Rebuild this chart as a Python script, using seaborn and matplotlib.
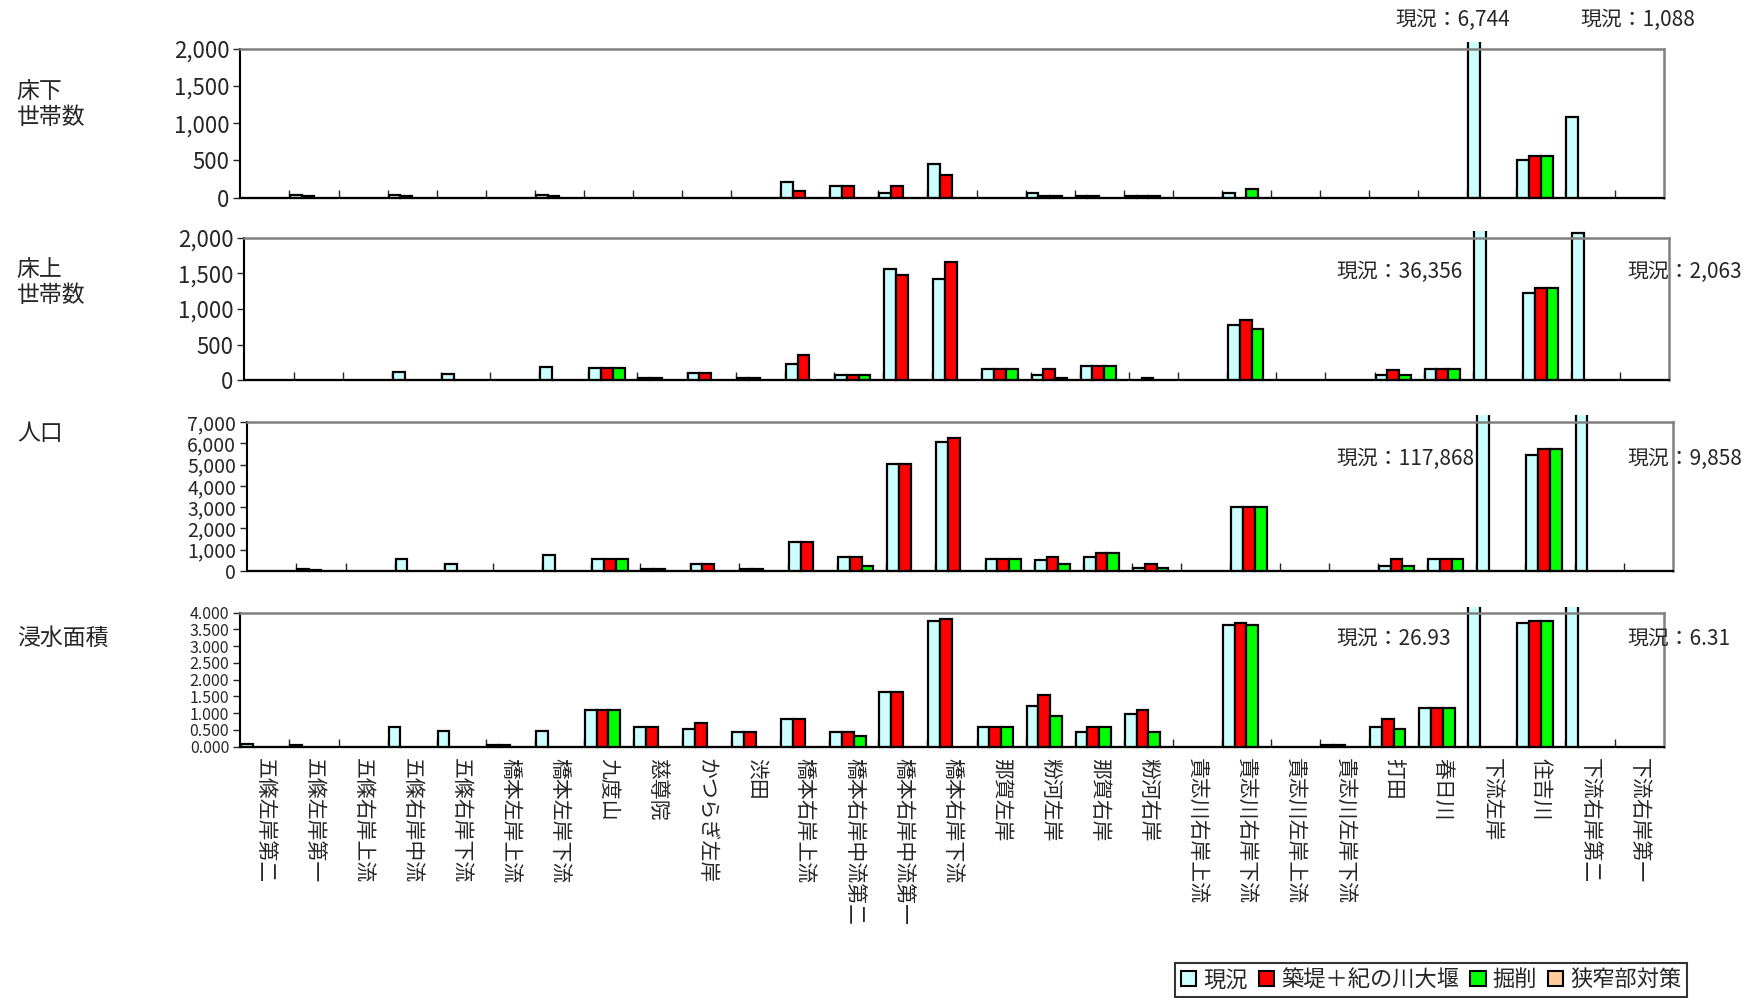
import matplotlib
matplotlib.use('Agg')
import numpy as np
import pandas as pd
import matplotlib.pyplot as plt
import seaborn as sns
from matplotlib.patches import Patch
from matplotlib.transforms import Bbox, TransformedBbox
from matplotlib.ticker import FuncFormatter, FixedLocator

# categories / series
districts = ['五條左岸第二', '五條左岸第一', '五條右岸上流', '五條右岸中流', '五條右岸下流',
             '橋本左岸上流', '橋本左岸下流', '九度山', '慈尊院', 'かつらぎ左岸', '渋田',
             '橋本右岸上流', '橋本右岸中流第二', '橋本右岸中流第一', '橋本右岸下流',
             '那賀左岸', '粉河左岸', '那賀右岸', '粉河右岸', '貴志川右岸上流', '貴志川右岸下流',
             '貴志川左岸上流', '貴志川左岸下流', '打田', '春日川', '下流左岸', '住吉川',
             '下流右岸第二', '下流右岸第一']
cases = ['現況', '築堤＋紀の川大堰', '掘削', '狭窄部対策']
case_colors = ['#CCFFFF', '#FF0000', '#00FF00', '#FFCC99']

# 床下世帯数
yukashita_genkyo = [0, 30, 0, 30, 0, 0, 30, 0, 0, 0, 0, 210, 155, 68, 450, 0, 60, 25, 25, 0, 65, 0, 0, 0, 0, 6744, 505, 1088, 0]
yukashita_chikutei = [0, 15, 0, 15, 0, 0, 15, 0, 0, 0, 0, 90, 155, 150, 300, 0, 25, 25, 25, 0, 0, 0, 0, 0, 0, 0, 560, 0, 0]
yukashita_kussaku = [0, 0, 0, 0, 0, 0, 0, 0, 0, 0, 0, 0, 0, 0, 0, 0, 25, 0, 25, 0, 120, 0, 0, 0, 0, 0, 560, 0, 0]
yukashita_kyosaku = [0] * 29

# 床上世帯数
yukaue_genkyo = [0, 0, 0, 120, 91, 0, 191, 167, 25, 96, 25, 225, 77, 1565, 1412, 158, 77, 196, 0, 0, 780, 0, 0, 72, 158, 36356, 1220, 2063, 0]
yukaue_chikutei = [0, 0, 0, 0, 0, 0, 0, 167, 25, 96, 25, 350, 77, 1469, 1660, 158, 158, 196, 25, 0, 847, 0, 0, 148, 158, 0, 1287, 0, 0]
yukaue_kussaku = [0, 0, 0, 0, 0, 0, 0, 167, 0, 0, 0, 0, 77, 0, 0, 158, 25, 196, 0, 0, 718, 0, 0, 72, 158, 0, 1287, 0, 0]
yukaue_kyosaku = [0] * 29

# 人口
jinko_genkyo = [0, 80, 0, 550, 330, 0, 740, 535, 100, 315, 100, 1350, 645, 5050, 6072, 535, 520, 645, 157, 0, 2990, 0, 0, 220, 550, 117868, 5475, 9858, 0]
jinko_chikutei = [0, 40, 0, 0, 0, 0, 0, 535, 100, 315, 100, 1350, 645, 5050, 6276, 535, 645, 834, 330, 0, 2990, 0, 0, 550, 550, 0, 5757, 0, 0]
jinko_kussaku = [0, 0, 0, 0, 0, 0, 0, 535, 0, 0, 0, 0, 220, 0, 0, 535, 330, 834, 157, 0, 2990, 0, 0, 220, 550, 0, 5757, 0, 0]
jinko_kyosaku = [0] * 29

# 浸水面積
menseki_genkyo = [0.06, 0.05, 0, 0.585, 0.457, 0.05, 0.457, 1.10, 0.576, 0.516, 0.447, 0.834, 0.447, 1.618, 3.752, 0.576, 1.221, 0.447, 0.963, 0, 3.623, 0, 0.05, 0.586, 1.161, 26.93, 3.683, 6.31, 0]
menseki_chikutei = [0, 0, 0, 0, 0, 0.05, 0, 1.10, 0.576, 0.705, 0.447, 0.834, 0.447, 1.618, 3.812, 0.576, 1.539, 0.576, 1.092, 0, 3.683, 0, 0.05, 0.834, 1.161, 0, 3.742, 0, 0]
menseki_kussaku = [0, 0, 0, 0, 0, 0, 0, 1.10, 0, 0, 0, 0, 0.318, 0, 0, 0.576, 0.903, 0.576, 0.437, 0, 3.623, 0, 0, 0.516, 1.161, 0, 3.742, 0, 0]
menseki_kyosaku = [0] * 29

row_labels = ['床下\n世帯数', '床上\n世帯数', '人口', '浸水面積']
y_max = [2000, 2000, 7000, 4.0]
y_step = [500, 500, 1000, 0.5]
notes_left = ['現況：6,744', '現況：36,356', '現況：117,868', '現況：26.93']
notes_right = ['現況：1,088', '現況：2,063', '現況：9,858', '現況：6.31']

sns.set_theme(style='white')
plt.rcParams['font.family'] = ['Noto Sans CJK JP', 'DejaVu Sans']

fig = plt.figure(figsize=(17.42, 9.98), dpi=100)

panels = [
    ([0.1380, 0.802, 0.817, 0.149], [yukashita_genkyo, yukashita_chikutei, yukashita_kussaku, yukashita_kyosaku]),
    ([0.1403, 0.619, 0.818, 0.143], [yukaue_genkyo, yukaue_chikutei, yukaue_kussaku, yukaue_kyosaku]),
    ([0.1419, 0.428, 0.8184, 0.149], [jinko_genkyo, jinko_chikutei, jinko_kussaku, jinko_kyosaku]),
    ([0.1380, 0.252, 0.817, 0.134], [menseki_genkyo, menseki_chikutei, menseki_kussaku, menseki_kyosaku]),
]
ytick_size = [16, 16, 14, 11.5]
label_top = [0.920, 0.741, 0.577, 0.372]
note_y = [0.980, 0.728, 0.540, 0.360]
note_x = [(0.801, 0.907), (0.767, 0.934), (0.767, 0.934), (0.767, 0.934)]

n = len(districts)
for i, (rect, series) in enumerate(panels):
    ax = fig.add_axes(rect)
    df = pd.DataFrame({
        '地区': districts * 4,
        'ケース': np.repeat(cases, n),
        '値': np.concatenate(series),
    })
    sns.barplot(data=df, x='地区', y='値', hue='ケース', order=districts, hue_order=cases,
                palette=dict(zip(cases, case_colors)), saturation=1, width=0.96,
                edgecolor='black', linewidth=1.6, errorbar=None, legend=False, ax=ax)
    ax.set_xlim(-0.5, n - 0.5)
    ax.set_ylim(0, y_max[i])
    ax.set_xlabel('')
    ax.set_ylabel('')
    # bars that exceed the axis poke a little over the frame
    clip = TransformedBbox(Bbox([[0, -0.05], [1, 1.045]]), ax.transAxes)
    for p in ax.patches:
        p.set_clip_box(clip)

    ax.yaxis.set_major_locator(FixedLocator(np.arange(0, y_max[i] + y_step[i] / 2, y_step[i])))
    if i == 3:
        ax.yaxis.set_major_formatter(FuncFormatter(lambda v, p: f'{v:.3f}'))
    else:
        ax.yaxis.set_major_formatter(FuncFormatter(lambda v, p: f'{v:,.0f}'))
    ax.tick_params(axis='y', direction='out', length=5, width=1, labelsize=ytick_size[i], pad=3, left=True)
    ax.set_xticks(np.arange(n))
    ax.set_xticks(np.arange(n - 1) + 0.5, minor=True)
    ax.tick_params(axis='x', which='major', length=0, pad=8)
    ax.tick_params(axis='x', which='minor', direction='in', length=6, width=1, bottom=True)
    if i == 3:
        ax.set_xticklabels(districts, rotation=270, fontsize=15, ha='center', va='top')
    else:
        ax.set_xticklabels([])

    for side in ['top', 'right']:
        ax.spines[side].set_color('#808080')
        ax.spines[side].set_linewidth(1.8)
    for side in ['left', 'bottom']:
        ax.spines[side].set_color('black')
        ax.spines[side].set_linewidth(1.5)

    fig.text(0.0096, label_top[i], row_labels[i], fontsize=16.5, va='top', ha='left', linespacing=1.15)
    fig.text(note_x[i][0], note_y[i], notes_left[i], fontsize=15, va='center', ha='left')
    fig.text(note_x[i][1], note_y[i], notes_right[i], fontsize=15, va='center', ha='left')

handles = [Patch(facecolor=c, edgecolor='black', linewidth=1.5) for c in case_colors]
leg = fig.legend(handles, cases, loc='lower right', bbox_to_anchor=(0.969, 0.0), ncol=4,
                 fontsize=16, frameon=True, fancybox=False, edgecolor='black',
                 handlelength=0.7, handleheight=0.7, handletextpad=0.3, columnspacing=0.5,
                 borderpad=0.25, borderaxespad=0.05)
leg.get_frame().set_linewidth(1.5)

fig.savefig('out.png', dpi=100, facecolor='white')
